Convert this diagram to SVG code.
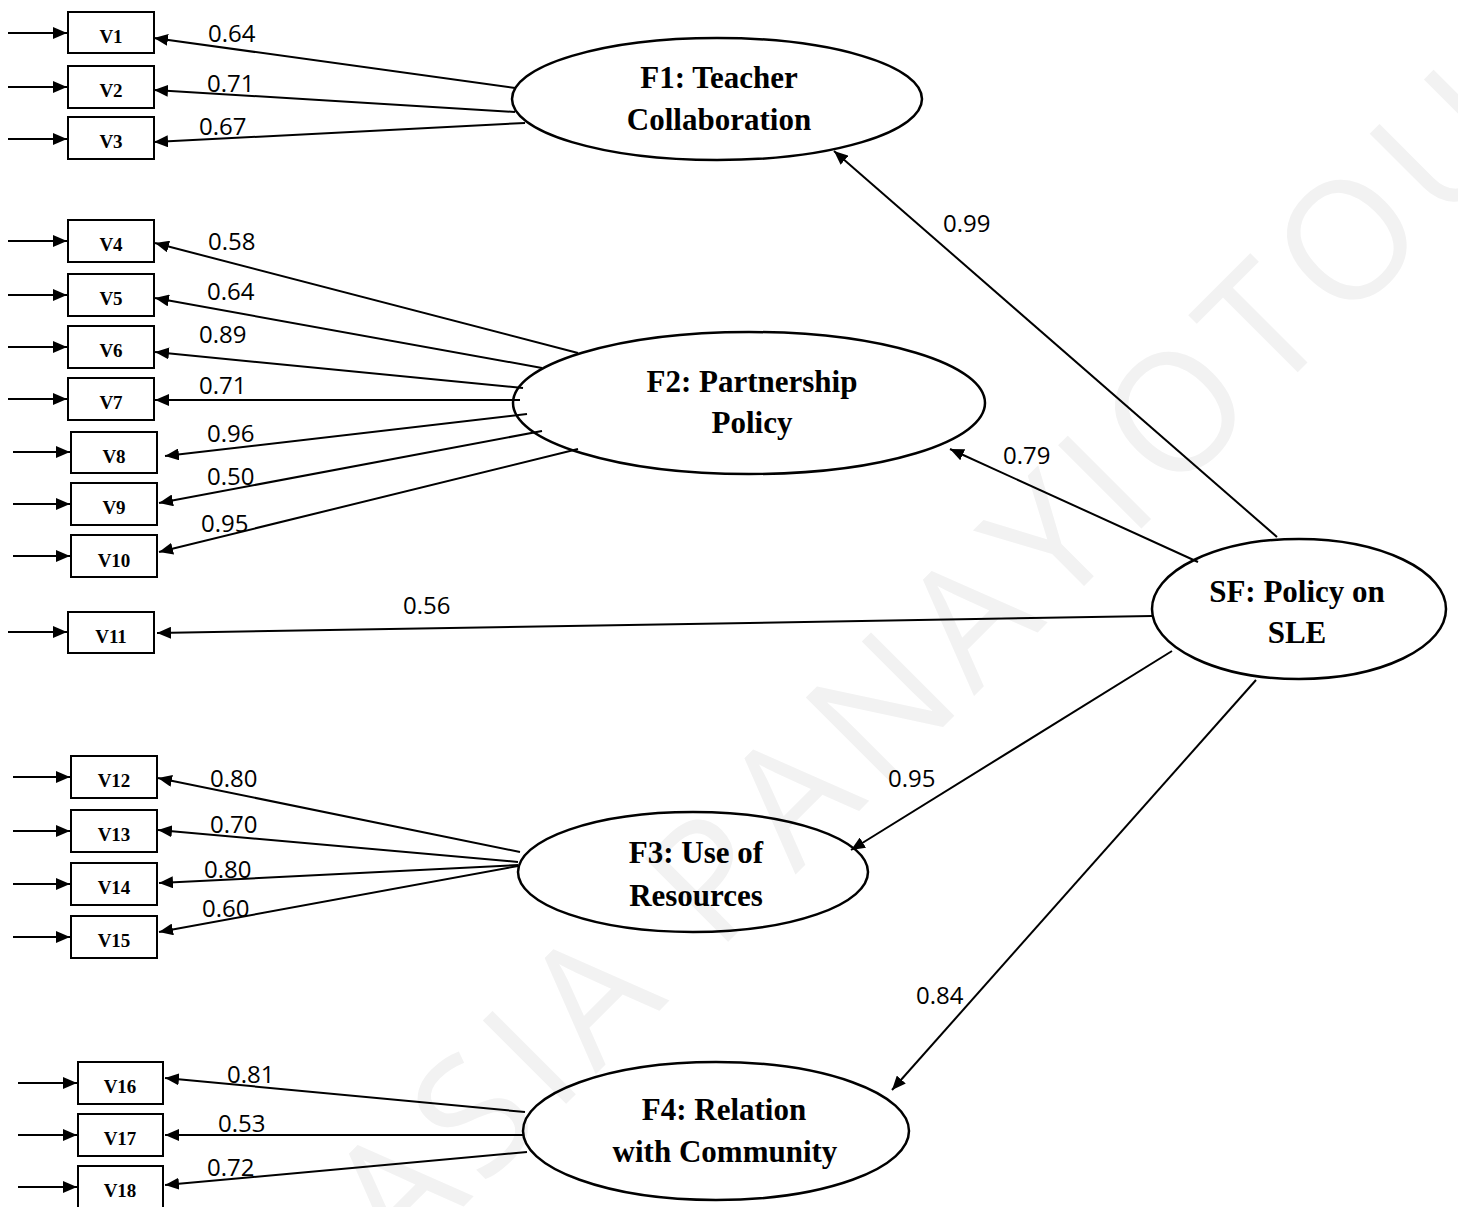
<svg xmlns="http://www.w3.org/2000/svg" width="1458" height="1207" viewBox="0 0 1458 1207">
  <style>
    .box { fill: none; stroke: #000; stroke-width: 2; }
    .latent { fill: none; stroke: #000; stroke-width: 2.5; }
    .vlabel { font-family: "Liberation Serif", "Times New Roman", serif; font-weight: bold; font-size: 19px; text-anchor: middle; fill: #000; }
    .flabel { font-family: "Liberation Serif", "Times New Roman", serif; font-weight: bold; font-size: 31px; text-anchor: middle; fill: #000; }
    .coef { font-family: "Open Sans", "Liberation Sans", sans-serif; font-size: 24px; fill: #000; }
    .edge { stroke: #000; stroke-width: 2; fill: none; marker-end: url(#arrow); }
    .mark { font-family: "Open Sans", "Liberation Sans", sans-serif; font-size: 165px; letter-spacing: 12px; fill: #f2f2f2; }
  </style>
  <defs>
    <marker id="arrow" viewBox="0 0 14 12" refX="14" refY="6" markerWidth="14" markerHeight="12" markerUnits="userSpaceOnUse" orient="auto">
      <path d="M0,0 L14,6 L0,12 z" fill="#000"/>
    </marker>
  </defs>

  <rect width="1458" height="1207" fill="#fff"/>

  <!-- background watermark -->
  <text class="mark" transform="translate(400,1270) rotate(-45)">ASIA PANAYIOTOU</text>

  <!-- connectors -->
  <g id="connectors">
    <!-- error terms -->
    <line class="edge" x1="8" y1="33" x2="67" y2="33"/>
    <line class="edge" x1="8" y1="87" x2="67" y2="87"/>
    <line class="edge" x1="8" y1="139" x2="67" y2="139"/>
    <line class="edge" x1="8" y1="241" x2="67" y2="241"/>
    <line class="edge" x1="8" y1="295" x2="67" y2="295"/>
    <line class="edge" x1="8" y1="347" x2="67" y2="347"/>
    <line class="edge" x1="8" y1="399" x2="67" y2="399"/>
    <line class="edge" x1="13" y1="452" x2="70" y2="452"/>
    <line class="edge" x1="13" y1="504" x2="70" y2="504"/>
    <line class="edge" x1="13" y1="556" x2="70" y2="556"/>
    <line class="edge" x1="8" y1="632" x2="67" y2="632"/>
    <line class="edge" x1="13" y1="777" x2="70" y2="777"/>
    <line class="edge" x1="13" y1="831" x2="70" y2="831"/>
    <line class="edge" x1="13" y1="884" x2="70" y2="884"/>
    <line class="edge" x1="13" y1="937" x2="70" y2="937"/>
    <line class="edge" x1="18" y1="1083" x2="77" y2="1083"/>
    <line class="edge" x1="18" y1="1135" x2="77" y2="1135"/>
    <line class="edge" x1="18" y1="1187" x2="77" y2="1187"/>

    <!-- F1 loadings -->
    <line class="edge" x1="515" y1="88" x2="154" y2="38"/>
    <line class="edge" x1="515" y1="112" x2="154" y2="90"/>
    <line class="edge" x1="525" y1="123" x2="154" y2="142"/>

    <!-- F2 loadings -->
    <line class="edge" x1="578" y1="353" x2="155" y2="243"/>
    <line class="edge" x1="542" y1="368" x2="155" y2="298"/>
    <line class="edge" x1="523" y1="388" x2="155" y2="352"/>
    <line class="edge" x1="520" y1="400" x2="155" y2="400"/>
    <line class="edge" x1="527" y1="414" x2="165" y2="456"/>
    <line class="edge" x1="542" y1="431" x2="159" y2="503"/>
    <line class="edge" x1="578" y1="449" x2="159" y2="552"/>

    <!-- F3 loadings -->
    <line class="edge" x1="520" y1="852" x2="158" y2="778"/>
    <line class="edge" x1="518" y1="862" x2="158" y2="830"/>
    <line class="edge" x1="518" y1="865" x2="159" y2="883"/>
    <line class="edge" x1="518" y1="866" x2="159" y2="932"/>

    <!-- F4 loadings -->
    <line class="edge" x1="525" y1="1112" x2="165" y2="1078"/>
    <line class="edge" x1="523" y1="1135" x2="165" y2="1135"/>
    <line class="edge" x1="527" y1="1152" x2="165" y2="1185"/>

    <!-- second-order paths -->
    <line class="edge" x1="1277" y1="537" x2="834" y2="151"/>
    <line class="edge" x1="1198" y1="562" x2="950" y2="449"/>
    <line class="edge" x1="1152" y1="616" x2="157" y2="633"/>
    <line class="edge" x1="1172" y1="651" x2="851" y2="850"/>
    <line class="edge" x1="1256" y1="680" x2="892" y2="1090"/>
  </g>

  <!-- coefficients -->
  <g id="coefficients">
    <text class="coef" x="208" y="42">0.64</text>
    <text class="coef" x="207" y="92">0.71</text>
    <text class="coef" x="199" y="135">0.67</text>
    <text class="coef" x="208" y="250">0.58</text>
    <text class="coef" x="207" y="300">0.64</text>
    <text class="coef" x="199" y="343">0.89</text>
    <text class="coef" x="199" y="394">0.71</text>
    <text class="coef" x="207" y="442">0.96</text>
    <text class="coef" x="207" y="485">0.50</text>
    <text class="coef" x="201" y="532">0.95</text>
    <text class="coef" x="403" y="614">0.56</text>
    <text class="coef" x="210" y="787">0.80</text>
    <text class="coef" x="210" y="833">0.70</text>
    <text class="coef" x="204" y="878">0.80</text>
    <text class="coef" x="202" y="917">0.60</text>
    <text class="coef" x="227" y="1083">0.81</text>
    <text class="coef" x="218" y="1132">0.53</text>
    <text class="coef" x="207" y="1176">0.72</text>
    <text class="coef" x="943" y="232">0.99</text>
    <text class="coef" x="1003" y="464">0.79</text>
    <text class="coef" x="888" y="787">0.95</text>
    <text class="coef" x="916" y="1004">0.84</text>
  </g>

  <!-- observed variables -->
  <g id="V1"><rect class="box" x="68" y="12" width="86" height="41"/><text class="vlabel" x="111" y="43">V1</text></g>
  <g id="V2"><rect class="box" x="68" y="66" width="86" height="42"/><text class="vlabel" x="111" y="97">V2</text></g>
  <g id="V3"><rect class="box" x="68" y="117" width="86" height="42"/><text class="vlabel" x="111" y="148">V3</text></g>
  <g id="V4"><rect class="box" x="68" y="220" width="86" height="42"/><text class="vlabel" x="111" y="251">V4</text></g>
  <g id="V5"><rect class="box" x="68" y="274" width="86" height="42"/><text class="vlabel" x="111" y="305">V5</text></g>
  <g id="V6"><rect class="box" x="68" y="326" width="86" height="42"/><text class="vlabel" x="111" y="357">V6</text></g>
  <g id="V7"><rect class="box" x="68" y="378" width="86" height="42"/><text class="vlabel" x="111" y="409">V7</text></g>
  <g id="V8"><rect class="box" x="71" y="432" width="86" height="41"/><text class="vlabel" x="114" y="463">V8</text></g>
  <g id="V9"><rect class="box" x="71" y="483" width="86" height="42"/><text class="vlabel" x="114" y="514">V9</text></g>
  <g id="V10"><rect class="box" x="71" y="535" width="86" height="42"/><text class="vlabel" x="114" y="567">V10</text></g>
  <g id="V11"><rect class="box" x="68" y="612" width="86" height="41"/><text class="vlabel" x="111" y="643">V11</text></g>
  <g id="V12"><rect class="box" x="71" y="756" width="86" height="42"/><text class="vlabel" x="114" y="787">V12</text></g>
  <g id="V13"><rect class="box" x="71" y="810" width="86" height="42"/><text class="vlabel" x="114" y="841">V13</text></g>
  <g id="V14"><rect class="box" x="71" y="863" width="86" height="42"/><text class="vlabel" x="114" y="894">V14</text></g>
  <g id="V15"><rect class="box" x="71" y="916" width="86" height="42"/><text class="vlabel" x="114" y="947">V15</text></g>
  <g id="V16"><rect class="box" x="78" y="1062" width="85" height="42"/><text class="vlabel" x="120" y="1093">V16</text></g>
  <g id="V17"><rect class="box" x="78" y="1114" width="85" height="42"/><text class="vlabel" x="120" y="1145">V17</text></g>
  <g id="V18"><rect class="box" x="78" y="1166" width="85" height="42"/><text class="vlabel" x="120" y="1197">V18</text></g>

  <!-- latent factors -->
  <g id="F1">
    <ellipse class="latent" cx="717" cy="99" rx="205" ry="61"/>
    <text class="flabel" x="719" y="88">F1: Teacher</text>
    <text class="flabel" x="719" y="130">Collaboration</text>
  </g>
  <g id="F2">
    <ellipse class="latent" cx="749" cy="403" rx="236" ry="71"/>
    <text class="flabel" x="752" y="392">F2: Partnership</text>
    <text class="flabel" x="752" y="433">Policy</text>
  </g>
  <g id="F3">
    <ellipse class="latent" cx="693" cy="872" rx="175" ry="60"/>
    <text class="flabel" x="696" y="863">F3: Use of</text>
    <text class="flabel" x="696" y="906">Resources</text>
  </g>
  <g id="F4">
    <ellipse class="latent" cx="716" cy="1131" rx="193" ry="69"/>
    <text class="flabel" x="724" y="1120">F4: Relation</text>
    <text class="flabel" x="725" y="1162">with Community</text>
  </g>
  <g id="SF">
    <ellipse class="latent" cx="1299" cy="609" rx="147" ry="70"/>
    <text class="flabel" x="1297" y="602">SF: Policy on</text>
    <text class="flabel" x="1297" y="643">SLE</text>
  </g>
</svg>
